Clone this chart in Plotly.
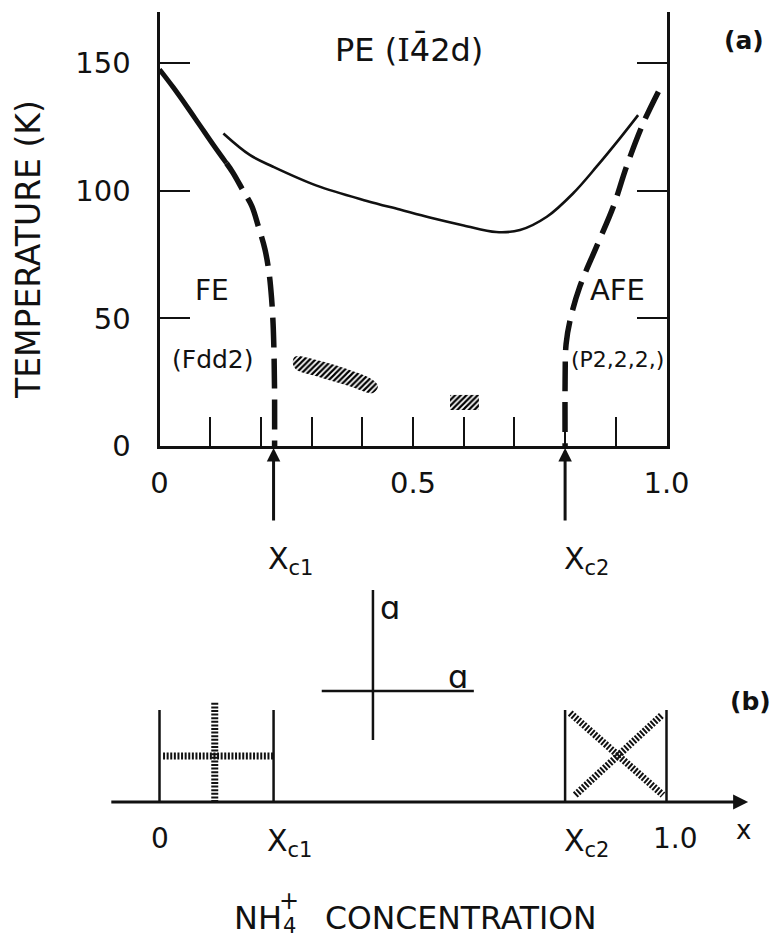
import plotly.graph_objects as go

# ---------------- data : panel (a) phase diagram ----------------
fe_solid_x = [0.0, 0.027, 0.054, 0.080, 0.106, 0.132]
fe_solid_T = [147.5, 140.5, 133.0, 125.5, 118.0, 110.8]
fe_dash_x = [0.132, 0.145, 0.165, 0.182, 0.195, 0.208, 0.216, 0.221, 0.224, 0.226, 0.227, 0.227]
fe_dash_T = [110.8, 107.0, 100.0, 94.0, 86.0, 77.0, 68.0, 58.0, 48.0, 35.0, 19.0, 0.0]

pe_x = [0.126, 0.178, 0.224, 0.310, 0.409, 0.474, 0.533, 0.600, 0.664, 0.711, 0.764, 0.816, 0.862, 0.908, 0.944]
pe_T = [122.4, 114.0, 109.4, 102.0, 96.0, 92.6, 89.5, 86.4, 83.8, 84.6, 89.8, 99.0, 109.4, 120.5, 129.6]

afe_x = [0.984, 0.954, 0.921, 0.895, 0.862, 0.829, 0.810, 0.802, 0.800, 0.800]
afe_T = [138.8, 126.4, 109.4, 93.7, 78.1, 62.4, 49.4, 40.0, 25.0, 0.0]

blob1_x = [0.267, 0.310, 0.375, 0.421, 0.431, 0.421, 0.375, 0.310, 0.270, 0.263, 0.267]
blob1_T = [35.0, 33.7, 29.8, 25.9, 23.4, 20.8, 23.4, 27.3, 29.9, 32.4, 35.0]
blob2_x = [0.573, 0.630, 0.630, 0.573, 0.573]
blob2_T = [20.0, 20.0, 14.1, 14.1, 20.0]

x_tick_vals = [0.0, 0.1, 0.2, 0.3, 0.4, 0.5, 0.6, 0.7, 0.8, 0.9, 1.0]
x_tick_text = ["0", "", "", "", "", "0.5", "", "", "", "", "1.0"]
y_tick_vals = [0, 50, 100, 150]
y_tick_text = ["0", "50", "100", "150"]

xc1 = 0.225
xc2 = 0.800

# ---------------- data : panel (b) schematic ----------------
box_x = [0.0, 0.0, None, xc1, xc1, None, xc2, xc2, None, 1.0, 1.0]
box_y = [0.0, 0.92, None, 0.0, 0.92, None, 0.0, 0.92, None, 0.0, 0.92]
fe_cross_x = [0.109, 0.109, None, 0.007, xc1]
fe_cross_y = [0.0, 1.0, None, 0.46, 0.46]
afe_cross_x = [0.810, 0.993, None, 0.820, 0.991]
afe_cross_y = [0.89, 0.07, None, 0.07, 0.87]
pe_cross_x = [0.421, 0.421, None, 0.320, 0.620]
pe_cross_y = [0.62, 2.12, None, 1.11, 1.11]
axis_b_x = [-0.098, 1.161]

INK = "#111111"
FONT = "DejaVu Sans"
W, H = 770, 942

fig = go.Figure()

# panel (a)
fig.add_trace(go.Scatter(x=fe_solid_x, y=fe_solid_T, mode="lines",
                         line=dict(color=INK, width=5, shape="spline"), xaxis="x", yaxis="y"))
fig.add_trace(go.Scatter(x=fe_dash_x, y=fe_dash_T, mode="lines",
                         line=dict(color=INK, width=5.5, shape="spline", dash="30px,11px"), xaxis="x", yaxis="y"))
fig.add_trace(go.Scatter(x=pe_x, y=pe_T, mode="lines",
                         line=dict(color=INK, width=2.6, shape="spline"), xaxis="x", yaxis="y"))
fig.add_trace(go.Scatter(x=afe_x, y=afe_T, mode="lines",
                         line=dict(color=INK, width=5.5, shape="spline", dash="30px,11px"), xaxis="x", yaxis="y"))
for bx, bt, shp in [(blob1_x, blob1_T, "spline"), (blob2_x, blob2_T, "linear")]:
    fig.add_trace(go.Scatter(x=bx, y=bt, mode="lines", fill="toself",
                             line=dict(color="rgba(0,0,0,0)", width=0, shape=shp),
                             fillcolor="white",
                             fillpattern=dict(shape="/", fgcolor="#000000", bgcolor="white",
                                              size=4, solidity=0.55),
                             xaxis="x", yaxis="y"))

# panel (b)
fig.add_trace(go.Scatter(x=box_x, y=box_y, mode="lines", line=dict(color=INK, width=2.5),
                         xaxis="x2", yaxis="y3"))
fig.add_trace(go.Scatter(x=pe_cross_x, y=pe_cross_y, mode="lines", line=dict(color=INK, width=2.5),
                         xaxis="x2", yaxis="y3"))
fig.add_trace(go.Scatter(x=fe_cross_x, y=fe_cross_y, mode="lines",
                         line=dict(color=INK, width=7, dash="2px,1.6px"), xaxis="x2", yaxis="y3"))
fig.add_trace(go.Scatter(x=afe_cross_x, y=afe_cross_y, mode="lines",
                         line=dict(color=INK, width=7, dash="2px,1.6px"), xaxis="x2", yaxis="y3"))

# pixel geometry
x0_px, x1_px = 159.5, 666.5           # x = 0 and x = 1.0
ppu = x1_px - x0_px
ya_bot_px, ya_top_px = 446.0, 12.0     # panel (a) T = 0 and T = 170
xb_lo, xb_hi = -0.3, 1.2

axis_common = dict(showgrid=False, zeroline=False, color=INK, automargin=False)
fig.update_layout(
    template="none",
    width=W, height=H, margin=dict(l=0, r=0, t=0, b=0, pad=0), autosize=False,
    paper_bgcolor="white", plot_bgcolor="rgba(0,0,0,0)", showlegend=False,
    font=dict(family=FONT, color=INK, size=28),
    xaxis=dict(domain=[x0_px / W, x1_px / W], range=[0, 1], anchor="y",
               showline=True, linewidth=3, linecolor=INK, mirror=False,
               ticks="inside", ticklen=29, tickwidth=2.2, tickcolor=INK,
               tickmode="array", tickvals=x_tick_vals, ticktext=x_tick_text,
               tickfont=dict(size=29, family=FONT, color=INK), ticklabelstandoff=9,
               **axis_common),
    yaxis=dict(domain=[(H - ya_bot_px) / H, (H - ya_top_px) / H], range=[0, 170], anchor="x",
               showline=True, linewidth=3, linecolor=INK, mirror="ticks",
               ticks="inside", ticklen=30, tickwidth=2.4, tickcolor=INK,
               tickmode="array", tickvals=y_tick_vals, ticktext=y_tick_text,
               tickfont=dict(size=29, family=FONT, color=INK), ticklabelstandoff=20,
               **axis_common),
    xaxis2=dict(domain=[(x0_px + xb_lo * ppu) / W, (x0_px + xb_hi * ppu) / W],
                range=[xb_lo, xb_hi], anchor="y3", visible=False, automargin=False),
    yaxis3=dict(domain=[0, 360 / H], range=[-1.4, 2.2], anchor="x2", visible=False, automargin=False),
)

ann = []
def txt(x, y, s, size=28, xref="x", yref="y", bold=False, xanchor="center", **kw):
    ann.append(dict(x=x, y=y, xref=xref, yref=yref, text=s, showarrow=False,
                    font=dict(size=size, family=FONT, color=INK,
                              weight=("bold" if bold else "normal")),
                    xanchor=xanchor, yanchor="middle", **kw))

# panel (a) labels
txt(0.492, 155.5, 'PE (<span style="font-family:DejaVu Serif">I</span>4\u03042d)', size=32)
txt(0.1036, 61.1, "FE", size=28)
txt(0.1055, 33.7, "(Fdd2)", size=25)
txt(0.904, 61.1, "AFE", size=29)
txt(0.904, 33.7, "(P2,2,2,)", size=22)
txt(290 / W, (H - 560) / H, "X<sub>c1</sub>", size=30, xref="paper", yref="paper")
txt(586 / W, (H - 560) / H, "X<sub>c2</sub>", size=30, xref="paper", yref="paper")
txt(744 / W, (H - 41) / H, "(a)", size=25, xref="paper", yref="paper", bold=True)
txt(28 / W, (H - 250) / H, "TEMPERATURE (K)", size=33, xref="paper", yref="paper", textangle=-90)

for xc in (xc1, xc2):
    ann.append(dict(x=xc, y=0, xref="x", yref="y", ax=0, ay=76, text="", showarrow=True,
                    arrowhead=2, arrowsize=0.9, arrowwidth=3, arrowcolor=INK, standoff=2))

# panel (b) labels
txt(0.0, -0.36, "0", size=28, xref="x2", yref="y3")
txt(0.257, -0.40, "X<sub>c1</sub>", size=30, xref="x2", yref="y3")
txt(0.842, -0.40, "X<sub>c2</sub>", size=30, xref="x2", yref="y3")
txt(1.017, -0.36, "1.0", size=28, xref="x2", yref="y3")
txt(1.151, -0.28, "x", size=26, xref="x2", yref="y3")
txt(0.455, 1.94, "\u0251", size=32, xref="x2", yref="y3")
txt(0.589, 1.25, "\u0251", size=32, xref="x2", yref="y3")
txt(750 / W, (H - 701) / H, "(b)", size=25, xref="paper", yref="paper", bold=True)

# x-axis title: NH4+ with stacked sub/superscript
txt(232 / W, (H - 918) / H, "NH", size=32, xref="paper", yref="paper", xanchor="left")
txt(289 / W, (H - 926) / H, "4", size=21, xref="paper", yref="paper")
txt(289 / W, (H - 901) / H, "+", size=24, xref="paper", yref="paper")
txt(323 / W, (H - 918) / H, "CONCENTRATION", size=31.5, xref="paper", yref="paper", xanchor="left")

ann.append(dict(x=axis_b_x[1], y=0, xref="x2", yref="y3", ax=axis_b_x[0], ay=0,
                axref="x2", ayref="y3", text="", showarrow=True,
                arrowhead=2, arrowsize=1.0, arrowwidth=3, arrowcolor=INK, standoff=0))

fig.update_layout(annotations=ann)
fig.write_html("out.html")
